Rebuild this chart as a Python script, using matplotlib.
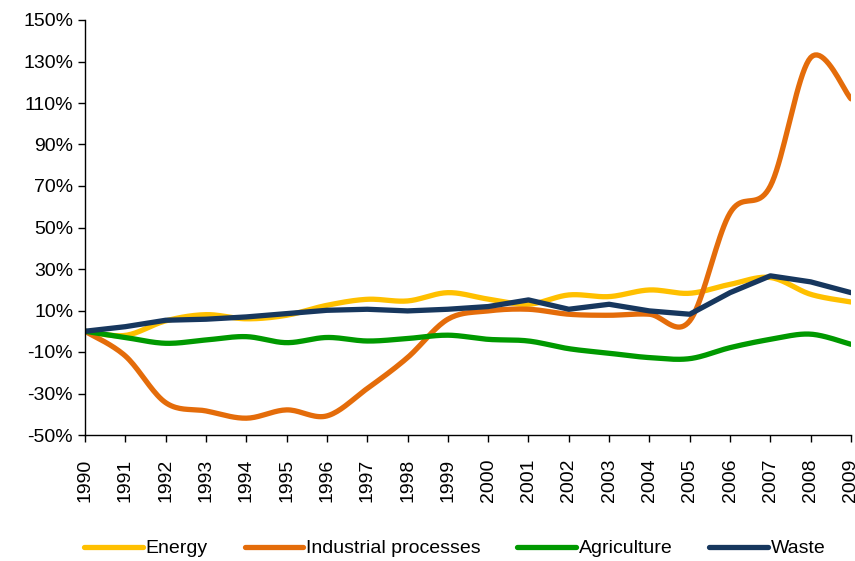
import numpy as np
import matplotlib.pyplot as plt

plt.rcParams["font.family"] = ["Liberation Sans", "DejaVu Sans"]

years = list(range(1990, 2010))
energy = [0, -2, 5, 8, 6, 7.7, 12.5, 15.4, 14.6, 18.6, 15.5, 13, 17.5, 16.7, 19.9, 18.3, 22.6, 25.9, 17.8, 14.1]
industrial = [0, -11.9, -34.4, -38.4, -41.9, -37.9, -40.8, -27.6, -12.7, 5.8, 9.8, 10.6, 8.2, 7.7, 8.2, 5, 57, 70, 131.9, 112]
agriculture = [0, -3, -5.8, -4.2, -2.6, -5.5, -3, -4.7, -3.5, -1.9, -3.9, -4.7, -8.4, -10.6, -12.7, -13.2, -7.9, -3.9, -1.4, -6.3]
waste = [0, 2.2, 5.3, 5.8, 6.9, 8.5, 10.1, 10.6, 9.8, 10.6, 11.9, 15.1, 10.6, 13, 9.8, 8.2, 18.6, 26.7, 23.8, 18.6]

series = [
    ("Energy", energy, "#FFC000", True),
    ("Industrial processes", industrial, "#E46C0A", True),
    ("Agriculture", agriculture, "#009900", True),
    ("Waste", waste, "#17375E", False),
]


def smooth(x, y, n=20):
    """Catmull-Rom style smoothing through every point (like Excel smoothed lines)."""
    x = np.asarray(x, float)
    y = np.asarray(y, float)
    px = np.concatenate([[x[0]], x, [x[-1]]])
    py = np.concatenate([[y[0]], y, [y[-1]]])
    xs, ys = [], []
    t = np.linspace(0, 1, n, endpoint=False)
    for i in range(1, len(px) - 2):
        p0, p1, p2, p3 = [np.array([px[j], py[j]]) for j in (i - 1, i, i + 1, i + 2)]
        c1 = p1 + (p2 - p0) / 6
        c2 = p2 - (p3 - p1) / 6
        for tt in t:
            pt = ((1 - tt) ** 3) * p1 + 3 * ((1 - tt) ** 2) * tt * c1 + 3 * (1 - tt) * tt ** 2 * c2 + tt ** 3 * p2
            xs.append(pt[0])
            ys.append(pt[1])
    xs.append(x[-1])
    ys.append(y[-1])
    return np.array(xs), np.array(ys)


fig = plt.figure(figsize=(8.55, 5.61), dpi=100, facecolor="white")
ax = fig.add_axes([85 / 855, 1 - 435 / 561, (851 - 85) / 855, (435 - 20) / 561])

for name, vals, color, sm in series:
    if sm:
        xs, ys = smooth(years, vals)
    else:
        xs, ys = years, vals
    ax.plot(xs, ys, color=color, lw=3.8, label=name, solid_capstyle="round", solid_joinstyle="round")

ax.set_xlim(1990, 2009)
ax.set_ylim(-50, 150)
ax.set_yticks(range(-50, 151, 20))
ax.set_yticklabels([f"{v}%" for v in range(-50, 151, 20)])
ax.set_xticks(years)
ax.set_xticklabels([str(y) for y in years], rotation=90)
ax.tick_params(labelsize=14, length=5, width=1, direction="out", colors="black")
ax.tick_params(axis="x", pad=12)
for s in ("top", "right"):
    ax.spines[s].set_visible(False)
for s in ("left", "bottom"):
    ax.spines[s].set_linewidth(1)
ax.margins(0)

fig.legend(loc="center", bbox_to_anchor=(0.532, 0.022), ncol=4, frameon=False,
           fontsize=14, handlelength=3.0, handletextpad=0.15, columnspacing=1.9)

fig.savefig("out.png", dpi=100, facecolor="white")
